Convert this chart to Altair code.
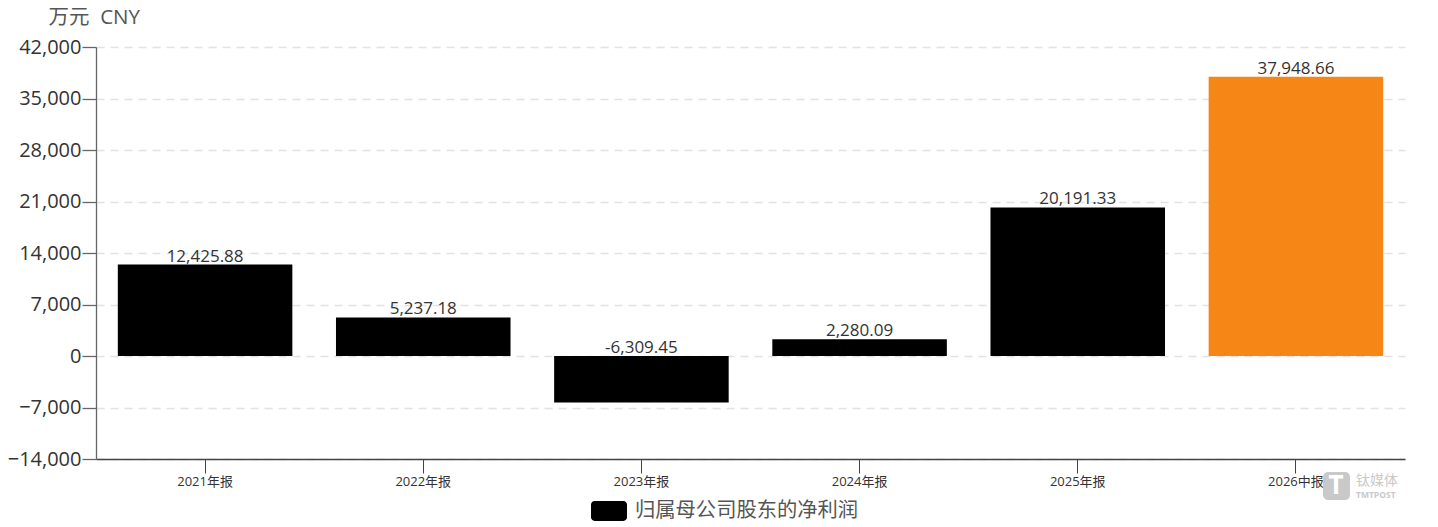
import altair as alt
import pandas as pd

categories = ["2021年报", "2022年报", "2023年报", "2024年报", "2025年报", "2026中报"]
values = [12425.88, 5237.18, -6309.45, 2280.09, 20191.33, 37948.66]
y_ticks = [-14000, -7000, 0, 7000, 14000, 21000, 28000, 35000, 42000]
series_name = "归属母公司股东的净利润"
unit_title = "万元\u00a0\u00a0CNY"
FONT = "Open Sans, Noto Sans CJK SC, sans-serif"

df = pd.DataFrame({"cat": categories, "value": values})
df["series"] = series_name
df["label"] = [f"{v:,.2f}" for v in values]
df["label_y"] = [max(v, 0) for v in values]

x = alt.X("cat:N", sort=categories, title=None,
          scale=alt.Scale(paddingInner=0.2, paddingOuter=0.1),
          axis=alt.Axis(labelAngle=0, labelFontSize=13, labelColor="#333", labelFont=FONT,
                        labelPadding=2, tickSize=14, tickColor="#444", domainColor="#444",
                        tickWidth=1, domainWidth=1.3, grid=False))
y = alt.Y("value:Q", title=unit_title,
          scale=alt.Scale(domain=[-14000, 42000], nice=False, zero=False),
          axis=alt.Axis(values=y_ticks, format=",d", labelFontSize=20, labelColor="#333",
                        labelFont=FONT, labelPadding=1, tickSize=14, tickColor="#666",
                        domainColor="#666", tickWidth=1.3, domainWidth=1.3, grid=True,
                        gridColor="#e2e2e2", gridDash=[8, 6], gridWidth=1.5,
                        titleAngle=0, titleFontSize=20.5, titleFont=FONT, titleColor="#555",
                        titleFontWeight="normal", titleAlign="left", titleBaseline="middle",
                        titleX=-48, titleY=-30))

rounded = "M-0.8,-0.55H0.8A0.2,0.2 0 0 1 1,-0.35V0.35A0.2,0.2 0 0 1 0.8,0.55H-0.8A0.2,0.2 0 0 1 -1,0.35V-0.35A0.2,0.2 0 0 1 -0.8,-0.55Z"

black = alt.Chart(df[df["cat"] != "2026中报"]).mark_bar().encode(
    x=x, y=y,
    color=alt.Color("series:N", scale=alt.Scale(range=["#000000"]), title=None,
                    legend=alt.Legend(orient="none", legendX=495, legendY=446, symbolType=rounded,
                                      symbolSize=1296, labelFontSize=20.3, labelFont=FONT,
                                      labelColor="#555", symbolStrokeWidth=0, labelOffset=8,
                                      labelLimit=400)),
)
orange = alt.Chart(df[df["cat"] == "2026中报"]).mark_bar(color="#f68716").encode(x=x, y=y)
labels = alt.Chart(df).mark_text(baseline="bottom", fontSize=17, font=FONT, color="#333", dy=1).encode(
    x=alt.X("cat:N", sort=categories), y=alt.Y("label_y:Q"), text="label:N")

wm_df = pd.DataFrame({"t": ["钛媒体"]})
wm_box = alt.Chart(wm_df).mark_rect(color="#c9c9c9", cornerRadius=5).encode(
    x=alt.value(1227), x2=alt.value(1254), y=alt.value(425), y2=alt.value(453))
wm_t = alt.Chart(wm_df).mark_text(text="T", fontSize=26, fontWeight="bold", color="#ffffff", font=FONT).encode(
    x=alt.value(1240), y=alt.value(439))
wm_cn = alt.Chart(wm_df).mark_text(text="钛媒体", fontSize=14, color="#c9c9c9", align="left", font=FONT).encode(
    x=alt.value(1260), y=alt.value(434))
wm_en = alt.Chart(wm_df).mark_text(text="TMTPOST", fontSize=8.5, fontWeight="bold", color="#c9c9c9", align="left", font=FONT).encode(
    x=alt.value(1260), y=alt.value(448))

chart = alt.layer(black, orange, labels, wm_box, wm_t, wm_cn, wm_en).properties(
    width=1309, height=412, autosize="none",
    padding={"left": 88, "top": 39, "right": 20, "bottom": 66},
    background="white",
).configure_view(stroke=None)

chart.save("out.html", embed_options={"renderer": "svg", "actions": False})
